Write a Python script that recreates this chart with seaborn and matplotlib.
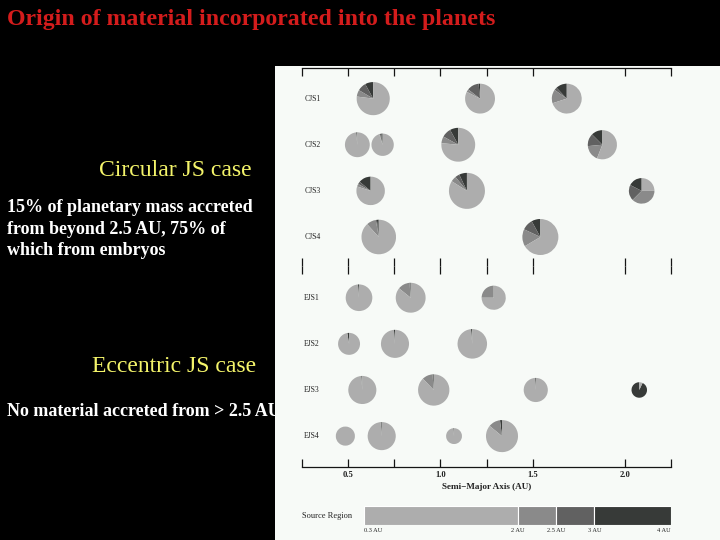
import numpy as np
import matplotlib
matplotlib.use("Agg")
import matplotlib.pyplot as plt
import seaborn as sns
from matplotlib.patches import Rectangle
from matplotlib.ticker import FixedLocator

# ---------------- data ----------------
title_text = "Origin of material incorporated into the planets"
circular_heading = "Circular JS case"
circular_note = "15% of planetary mass accreted\nfrom beyond 2.5 AU, 75% of\nwhich from embryos"
eccentric_heading = "Eccentric JS case"
eccentric_note = "No material accreted from > 2.5 AU"

runs_cjs = ["CJS1", "CJS2", "CJS3", "CJS4"]
runs_ejs = ["EJS1", "EJS2", "EJS3", "EJS4"]

planet_run = (["CJS1"] * 3 + ["CJS2"] * 4 + ["CJS3"] * 3 + ["CJS4"] * 2 +
              ["EJS1"] * 3 + ["EJS2"] * 3 + ["EJS3"] * 4 + ["EJS4"] * 4)
# semi-major axis (AU)
planet_a = [0.636, 1.215, 1.685,
            0.550, 0.687, 1.097, 1.878,
            0.622, 1.144, 2.091,
            0.666, 1.542,
            0.559, 0.839, 1.289,
            0.505, 0.754, 1.173,
            0.577, 0.964, 1.517, 2.078,
            0.485, 0.682, 1.074, 1.334]
# relative planet size (largest = 1)
planet_size = [0.92, 0.83, 0.83,
               0.69, 0.62, 0.94, 0.81,
               0.79, 1.00, 0.71,
               0.96, 1.00,
               0.74, 0.83, 0.67,
               0.61, 0.78, 0.82,
               0.78, 0.87, 0.67, 0.43,
               0.53, 0.78, 0.44, 0.89]
# mass fraction by source region
frac_3_4 = [0.08, 0.015, 0.12,
            0.015, 0.02, 0.08, 0.125,
            0.14, 0.07, 0.175,
            0.017, 0.08,
            0.012, 0.012, 0.0,
            0.025, 0.012, 0.014,
            0.012, 0.012, 0.012, 0.93,
            0.0, 0.012, 0.014, 0.02]
frac_25_3 = [0.085, 0.13, 0.03,
             0.0, 0.02, 0.09, 0.14,
             0.03, 0.04, 0.2,
             0.01, 0.1,
             0.0, 0.0, 0.0,
             0.0, 0.0, 0.0,
             0.0, 0.0, 0.0, 0.0,
             0.0, 0.0, 0.0, 0.0]
frac_2_25 = [0.065, 0.03, 0.15,
             0.0, 0.01, 0.065, 0.175,
             0.03, 0.05, 0.375,
             0.09, 0.155,
             0.0, 0.13, 0.25,
             0.0, 0.0, 0.0,
             0.0, 0.11, 0.0, 0.0,
             0.0, 0.0, 0.0, 0.12]
frac_03_2 = [0.77, 0.825, 0.70,
             0.985, 0.95, 0.765, 0.56,
             0.80, 0.84, 0.25,
             0.883, 0.665,
             0.988, 0.858, 0.75,
             0.975, 0.988, 0.986,
             0.988, 0.878, 0.988, 0.07,
             1.0, 0.988, 0.986, 0.86]

region_labels = ["0.3 AU", "2 AU", "2.5 AU", "3 AU", "4 AU"]
region_bounds = [0.3, 2.0, 2.5, 3.0, 4.0]
region_colors = ["#adadad", "#8a8a8a", "#616161", "#373a38"]  # 0.3-2, 2-2.5, 2.5-3, 3-4

axis_ticks_major = [0.5, 1.0, 1.5, 2.0]
axis_ticks_minor = [0.25, 0.75, 1.25, 2.25]

# ---------------- style ----------------
sns.set_theme(style="white")
plt.rcParams["font.family"] = ["Liberation Serif", "DejaVu Serif"]

W, H = 720, 540
fig = plt.figure(figsize=(7.2, 5.4), dpi=100, facecolor="black")

def fx(px):
    return px / W

def fy(py):
    return 1 - py / H

# left-hand slide texts
fig.text(fx(7), fy(19), title_text, color="#d41c1c", fontsize=17.2,
         fontweight="bold", ha="left", va="center")
fig.text(fx(175), fy(170), circular_heading, color="#f4f46a", fontsize=17,
         ha="center", va="center")
fig.text(fx(7), fy(229), circular_note, color="white", fontsize=13,
         fontweight="bold", ha="left", va="center", linespacing=1.38)
fig.text(fx(174), fy(367), eccentric_heading, color="#f4f46a", fontsize=17,
         ha="center", va="center")
fig.text(fx(7), fy(411), eccentric_note, color="white", fontsize=13,
         fontweight="bold", ha="left", va="center")

# white figure panel
fig.add_artist(Rectangle((fx(275), 0), fx(445), fy(66), transform=fig.transFigure,
                         facecolor="#f7faf7", edgecolor="none", zorder=4))

# axes geometry
x0, x1 = 302, 671
px_per_au = (x1 - x0) / 2.0
r_unit = 18 / px_per_au
cjs_top, mid, ejs_bot = 68, 266, 467

ax_c = fig.add_axes([fx(x0), fy(mid), fx(x1 - x0), (mid - cjs_top) / H], zorder=6)
ax_e = fig.add_axes([fx(x0), fy(ejs_bot), fx(x1 - x0), (ejs_bot - mid) / H], zorder=6)

wedge_order = [frac_3_4, frac_25_3, frac_2_25, frac_03_2]
wedge_colors = [region_colors[3], region_colors[2], region_colors[1], region_colors[0]]

def draw_panel(ax, runs, height_px, row0):
    ax.set_facecolor("none")
    h = height_px / px_per_au
    row_y = {r: h - (row0 + 0.25 * k) for k, r in enumerate(runs)}
    for i, run in enumerate(planet_run):
        if run not in runs:
            continue
        vals = [series[i] for series in wedge_order]
        ax.pie(vals, colors=wedge_colors, startangle=90, counterclock=True,
               center=(planet_a[i], row_y[run]), radius=planet_size[i] * r_unit,
               frame=True, wedgeprops=dict(linewidth=0))
    for r in runs:
        ax.text(0.262, row_y[r], r, fontsize=5.6, color="#222222",
                ha="left", va="center")
    ax.set_aspect("auto")
    ax.set_xlim(0.25, 2.25)
    ax.set_ylim(0, h)
    ax.set_yticks([])
    ax.xaxis.set_major_locator(FixedLocator(axis_ticks_major))
    ax.xaxis.set_minor_locator(FixedLocator(axis_ticks_minor))
    ax.tick_params(axis="x", which="both", top=True, bottom=True, direction="in",
                   length=5.5, width=0.9, color="#151515")
    for s in ["left", "right"]:
        ax.spines[s].set_visible(False)

draw_panel(ax_c, runs_cjs, mid - cjs_top, 0.166)
draw_panel(ax_e, runs_ejs, ejs_bot - mid, 0.172)

ax_c.spines["bottom"].set_visible(False)
ax_c.spines["top"].set_color("#151515")
ax_c.spines["top"].set_linewidth(0.9)
ax_c.tick_params(axis="x", which="both", labelbottom=False, labeltop=False)

ax_e.spines["top"].set_visible(False)
ax_e.spines["bottom"].set_color("#151515")
ax_e.spines["bottom"].set_linewidth(0.9)
ax_e.tick_params(axis="x", which="major", labelbottom=True, labelsize=6.2, pad=3)
for lab in ax_e.get_xticklabels():
    lab.set_fontweight("bold")
    lab.set_color("#222222")
ax_e.set_xlabel("Semi\u2212Major Axis (AU)", fontsize=6.6, fontweight="bold",
                color="#222222", labelpad=3)

# source region bar
ax_b = fig.add_axes([fx(364), fy(525), fx(671 - 364), (525 - 505.5) / H], zorder=6)
lefts = [0.0] + region_bounds[1:-1]
widths = [region_bounds[1] - 0.0] + list(np.diff(region_bounds[1:]))
ax_b.barh([0] * 4, widths, left=lefts, height=1.0, color=region_colors,
          edgecolor="white", linewidth=0.8)
ax_b.set_xlim(0, 4)
ax_b.set_ylim(-0.5, 0.5)
ax_b.set_yticks([])
ax_b.set_xticks([0.0] + region_bounds[1:])
ax_b.set_xticklabels(region_labels)
ax_b.tick_params(axis="x", length=0, labelsize=4.6, pad=2, colors="#222222")
labs = ax_b.get_xticklabels()
labs[0].set_ha("left")
labs[-1].set_ha("right")
for s in ax_b.spines.values():
    s.set_visible(False)
ax_b.set_facecolor("none")

fig.text(fx(302), fy(516), "Source Region", fontsize=6.0, color="#222222",
         ha="left", va="center", zorder=10)

fig.savefig("out.png", dpi=100, facecolor=fig.get_facecolor())
